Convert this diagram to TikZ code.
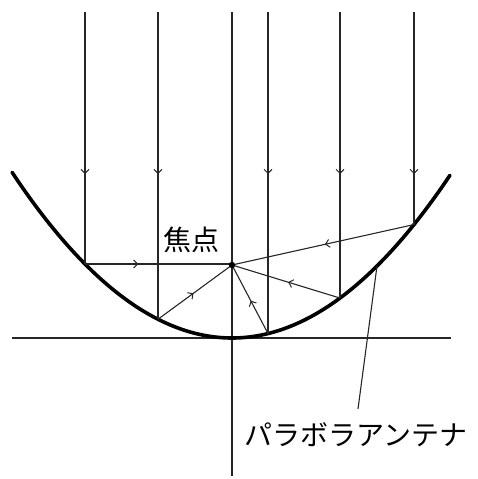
\documentclass[tikz,border=0pt]{standalone}
\usepackage{fontspec}
\newfontfamily\jpfont{Noto Sans CJK JP}
\usetikzlibrary{arrows.meta,decorations.markings}
\tikzset{
  thinline/.style={line width=1.1pt,draw=black!85},
  ray/.style={thinline,postaction={decorate},decoration={markings,mark=at position #1 with {\arrow{Straight Barb[length=4pt,width=8pt,line width=1pt]}}}},
  dish/.style={line width=3.6pt,line cap=round},
  lbl/.style={font=\jpfont\fontsize{28pt}{30pt}\selectfont,inner sep=0pt}
}
\begin{document}
\begin{tikzpicture}[x=1pt,y=-1pt]
\useasboundingbox (0,0) rectangle (477,479);
% axes
\coordinate (hl) at (12,338);
\coordinate (hr) at (451,338);
\coordinate (vt) at (232,12);
\coordinate (vb) at (232,476);
\draw[thinline] (hl) -- (hr);
\draw[thinline] (vt) -- (vb);
% parabola
\draw[dish] plot[domain=-220:218,samples=120] ({232+\x},{338-(\x/10)*(\x/10)/2.92});
% focus
\coordinate (F) at (232,265);
% reflection points
\foreach \n/\xx in {a/85,b/158,c/268,d/340,e/414}{
  \pgfmathsetmacro{\yy}{338-((\xx-232)/10)*((\xx-232)/10)/2.92}
  \coordinate (P\n) at (\xx,\yy);
  \coordinate (T\n) at (\xx,12);
}
% incoming rays
\foreach \n in {a,b,c,d,e}{
  \draw[ray=162pt] (T\n) -- (P\n);
}
% reflected rays
\draw[ray=0.36] (Pa) -- (Pa -| F) -- (F);
\draw[ray=0.48] (Pb) -- (F);
\draw[ray=0.48] (Pc) -- (F);
\draw[ray=0.48] (Pd) -- (F);
\draw[ray=0.49] (Pe) -- (F);
\fill (F) circle (3.2pt);
% labels
\node[lbl] (foc) at (191,240) {焦点};
\node[lbl] (ant) at (356,435) {パラボラアンテナ};
\coordinate (lt) at (377,266);
\coordinate (lb) at (358,409);
\draw[thinline] (lt) -- (lb);
\end{tikzpicture}
\end{document}
